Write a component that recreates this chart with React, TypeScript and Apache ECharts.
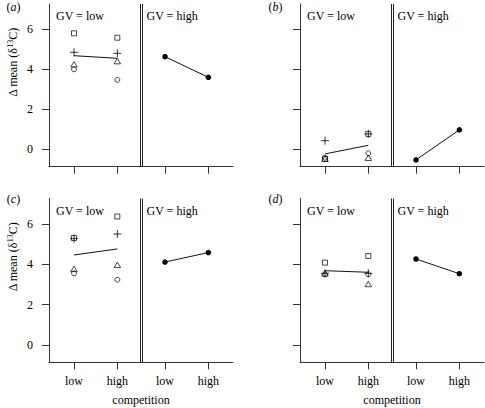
import React, { useEffect, useRef } from 'react';
import * as echarts from 'echarts';

// ---- data ----
const xPositions = [1, 2, 3.1, 4.1];
const xLabels = ['low', 'high', 'low', 'high'];
const yTicks = [0, 2, 4, 6];
const panelLetters = ['a', 'b', 'c', 'd'];
const dividerX = [2.523, 2.58];

// panel (a)
const squareA = [5.8, 5.58];
const plusA = [4.85, 4.8];
const triA = [4.25, 4.41];
const circA = [4.0, 3.47];
const meanA = [4.68, 4.55];
const highA = [4.63, 3.6];
// panel (b)
const squareB = [-0.48, 0.77];
const plusB = [0.43, 0.77];
const triB = [-0.47, -0.42];
const circB = [-0.42, -0.2];
const meanB = [-0.23, 0.2];
const highB = [-0.53, 0.97];
// panel (c)
const squareC = [5.3, 6.37];
const plusC = [5.27, 5.5];
const triC = [3.77, 3.97];
const circC = [3.55, 3.23];
const meanC = [4.46, 4.76];
const highC = [4.11, 4.58];
// panel (d)
const squareD = [4.08, 4.41];
const plusD = [3.55, 3.55];
const triD = [3.55, 3.02];
const circD = [3.5, 3.5];
const meanD = [3.68, 3.6];
const highD = [4.26, 3.53];

const panels = [
  { square: squareA, plus: plusA, tri: triA, circ: circA, mean: meanA, high: highA },
  { square: squareB, plus: plusB, tri: triB, circ: circB, mean: meanB, high: highB },
  { square: squareC, plus: plusC, tri: triC, circ: circC, mean: meanC, high: highC },
  { square: squareD, plus: plusD, tri: triD, circ: circD, mean: meanD, high: highD },
];

const FONT = "'Liberation Serif', 'DejaVu Serif', 'Times New Roman', serif";
const AX = '#333';

const gridPos = [
  { left: 49, top: 4, width: 184, height: 162.7 },
  { left: 300, top: 4, width: 184, height: 162.7 },
  { left: 49, top: 198.5, width: 184, height: 163.8 },
  { left: 300, top: 198.5, width: 184, height: 163.8 },
];

const labelFor = (v: number) => {
  let best = 0;
  for (let i = 1; i < xPositions.length; i++) {
    if (Math.abs(xPositions[i] - v) < Math.abs(xPositions[best] - v)) best = i;
  }
  return xLabels[best];
};

function buildOption() {
  const grid = gridPos.map((g) => ({ ...g, containLabel: false }));
  const xAxis = panels.map((_, i) => {
    const bottom = i >= 2;
    return {
      type: 'value',
      gridIndex: i,
      min: 0.423,
      max: 4.669,
      axisLine: { show: true, onZero: false, lineStyle: { color: AX, width: 1 } },
      axisTick: { show: true, customValues: xPositions, length: 7, lineStyle: { color: AX, width: 1 } },
      axisLabel: {
        show: bottom,
        customValues: xPositions,
        formatter: (v: number) => labelFor(v),
        margin: 13,
        color: '#000',
        fontSize: 12,
        fontFamily: FONT,
      },
      splitLine: { show: false },
      name: bottom ? 'competition' : '',
      nameLocation: 'middle',
      nameGap: 32,
      nameTextStyle: { color: '#000', fontSize: 12, fontFamily: FONT },
    };
  });
  const yAxis = panels.map((_, i) => {
    const left = i % 2 === 0;
    return {
      type: 'value',
      gridIndex: i,
      min: -0.87,
      max: 7.265,
      axisLine: { show: true, onZero: false, lineStyle: { color: AX, width: 1 } },
      axisTick: { show: true, customValues: yTicks, length: 7, lineStyle: { color: AX, width: 1 } },
      axisLabel: {
        show: left,
        customValues: yTicks,
        margin: 16,
        color: '#000',
        fontSize: 12,
        fontFamily: FONT,
      },
      splitLine: { show: false },
    };
  });

  const series: any[] = [];
  const openStyle = { color: 'rgba(0,0,0,0)', borderColor: '#000', borderWidth: 0.9 };
  panels.forEach((p, i) => {
    const common = { xAxisIndex: i, yAxisIndex: i, silent: true, emphasis: { disabled: true } };
    series.push({
      ...common,
      type: 'line',
      data: [[xPositions[0], p.mean[0]], [xPositions[1], p.mean[1]]],
      symbol: 'none',
      lineStyle: { color: '#111', width: 1 },
      markLine: {
        silent: true,
        symbol: ['none', 'none'],
        label: { show: false },
        emphasis: { disabled: true },
        lineStyle: { color: '#222', width: 1, type: 'solid' },
        data: dividerX.map((x) => ({ xAxis: x })),
      },
    });
    series.push({
      ...common,
      type: 'line',
      data: [[xPositions[2], p.high[0]], [xPositions[3], p.high[1]]],
      symbol: 'circle',
      symbolSize: 5.5,
      itemStyle: { color: '#000' },
      lineStyle: { color: '#111', width: 1 },
    });
    series.push({
      ...common,
      type: 'scatter',
      data: [[xPositions[0], p.square[0]], [xPositions[1], p.square[1]]],
      symbol: 'rect',
      symbolSize: 5,
      itemStyle: openStyle,
    });
    series.push({
      ...common,
      type: 'scatter',
      data: [[xPositions[0], p.plus[0]], [xPositions[1], p.plus[1]]],
      symbol: 'path://M0,4L8,4M4,0L4,8',
      symbolSize: 8,
      itemStyle: { color: 'rgba(0,0,0,0)', borderColor: '#000', borderWidth: 1 },
    });
    series.push({
      ...common,
      type: 'scatter',
      data: [[xPositions[0], p.tri[0]], [xPositions[1], p.tri[1]]],
      symbol: 'triangle',
      symbolSize: [6.5, 5.5],
      itemStyle: openStyle,
    });
    series.push({
      ...common,
      type: 'scatter',
      data: [[xPositions[0], p.circ[0]], [xPositions[1], p.circ[1]]],
      symbol: 'circle',
      symbolSize: 5,
      itemStyle: openStyle,
    });
  });

  const graphic: any[] = [];
  const letterPos = [
    [13.5, 7],
    [275.5, 7],
    [13.5, 198.5],
    [275.5, 198.5],
  ];
  panelLetters.forEach((l, i) => {
    graphic.push({
      type: 'text',
      x: letterPos[i][0],
      y: letterPos[i][1],
      silent: true,
      style: {
        text: `{r|(}{i|${l}}{r|)}`,
        align: 'center',
        verticalAlign: 'middle',
        rich: {
          r: { fontSize: 12, fontFamily: FONT, fill: '#000' },
          i: { fontSize: 12, fontFamily: FONT, fontStyle: 'italic', fill: '#000' },
        },
      },
    });
    const g = gridPos[i];
    const ty = i < 2 ? 16 : 210.5;
    graphic.push({
      type: 'text',
      x: g.left + 7,
      y: ty,
      silent: true,
      style: { text: 'GV = low', fontSize: 12, fontFamily: FONT, fill: '#000', align: 'left', verticalAlign: 'middle' },
    });
    graphic.push({
      type: 'text',
      x: g.left + 97.5,
      y: ty,
      silent: true,
      style: { text: 'GV = high', fontSize: 12, fontFamily: FONT, fill: '#000', align: 'left', verticalAlign: 'middle' },
    });
  });
  [62.5, 257].forEach((cy) => {
    graphic.push({
      type: 'text',
      x: 13,
      y: cy,
      rotation: Math.PI / 2,
      silent: true,
      style: {
        text: '{n|Δ mean (δ}{s|13}{n|C)}',
        align: 'center',
        verticalAlign: 'middle',
        rich: {
          n: { fontSize: 12, fontFamily: FONT, fill: '#000', lineHeight: 14 },
          s: { fontSize: 8, fontFamily: FONT, fill: '#000', verticalAlign: 'top', lineHeight: 14 },
        },
      },
    });
  });

  return {
    animation: false,
    backgroundColor: '#fff',
    textStyle: { fontFamily: FONT },
    grid,
    xAxis,
    yAxis,
    series,
    graphic,
  };
}

export default function App() {
  const ref = useRef<HTMLDivElement>(null);
  useEffect(() => {
    if (!ref.current) return;
    const chart = echarts.init(ref.current, undefined, { renderer: 'svg' });
    chart.setOption(buildOption() as any);
    return () => chart.dispose();
  }, []);
  return (
    <div
      ref={ref}
      style={{ position: 'absolute', left: 0, top: 0, width: 485, height: 408, background: '#fff' }}
    />
  );
}
